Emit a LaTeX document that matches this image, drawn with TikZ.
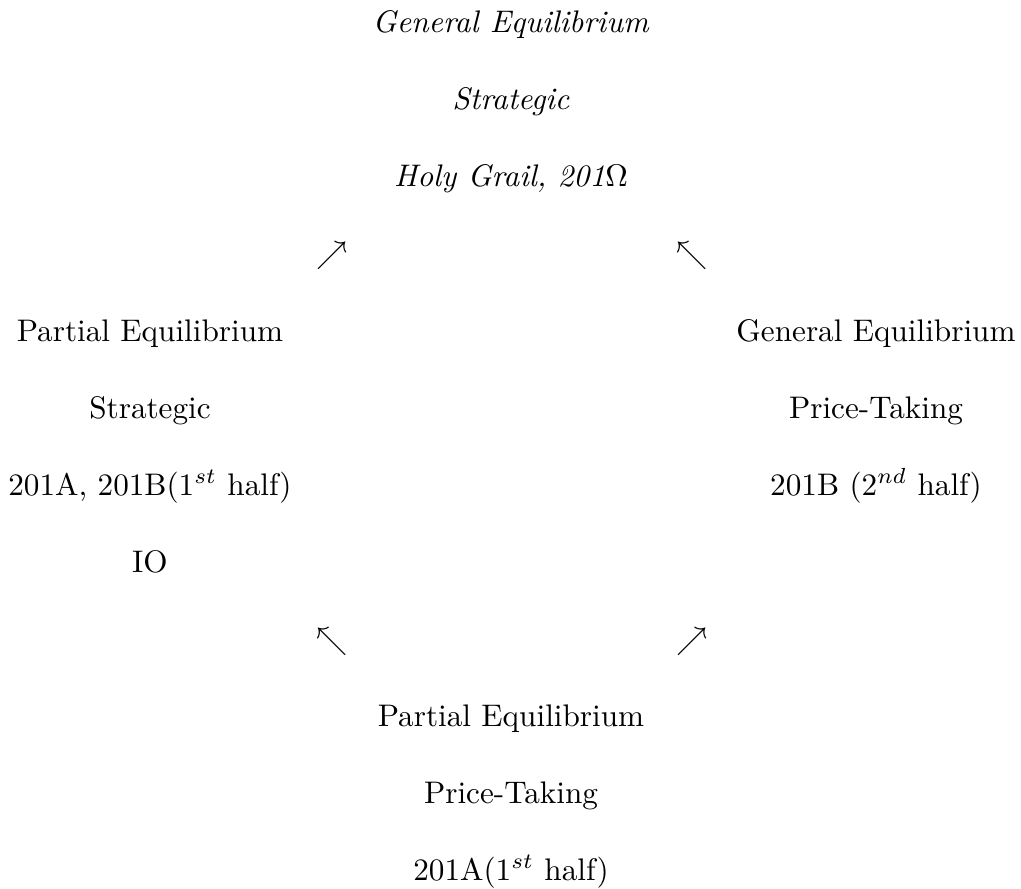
\documentclass[tikz,border=0pt]{standalone}
\usepackage{tikz}
\usepackage{amsmath}

\tikzset{
    lbl/.style={anchor=base, inner sep=0pt},
    arr/.style={anchor=base, inner sep=0pt}
}

\begin{document}
\begin{tikzpicture}[x=0.3205pt, y=-0.3205pt]
\useasboundingbox (0,0) rectangle (1021,888);

% top: general equilibrium, strategic
\node[lbl] (gs1) at (511,32)  {\textit{General Equilibrium}};
\node[lbl] (gs2) at (511,109) {\textit{Strategic}};
\node[lbl] (gs3) at (511,186) {\textit{Holy Grail, 201}$\Omega$};

\node[arr] (up-left)  at (332,263) {$\nearrow$};
\node[arr] (up-right) at (692,263) {$\nwarrow$};

% left: partial equilibrium, strategic
\node[lbl] (ps1) at (150,341) {Partial Equilibrium};
\node[lbl] (ps2) at (150,418) {Strategic};
\node[lbl] (ps3) at (150,495) {201A, 201B(1$^{st}$ half)};
\node[lbl] (ps4) at (150,572) {IO};

% right: general equilibrium, price-taking
\node[lbl] (gp1) at (876,341) {General Equilibrium};
\node[lbl] (gp2) at (876,418) {Price-Taking};
\node[lbl] (gp3) at (876,495) {201B (2$^{nd}$ half)};

\node[arr] (down-left)  at (332,649) {$\nwarrow$};
\node[arr] (down-right) at (692,649) {$\nearrow$};

% bottom: partial equilibrium, price-taking
\node[lbl] (pp1) at (511,726) {Partial Equilibrium};
\node[lbl] (pp2) at (511,803) {Price-Taking};
\node[lbl] (pp3) at (511,880) {201A(1$^{st}$ half)};
\end{tikzpicture}
\end{document}
